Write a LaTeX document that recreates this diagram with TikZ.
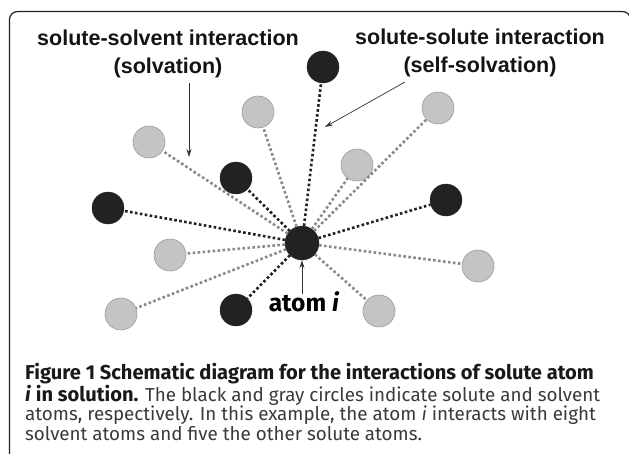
\documentclass[tikz,border=0pt]{standalone}
\usepackage{fontspec}
\setmainfont{Fira Sans}
\newfontfamily\labfont{Liberation Sans}
\usetikzlibrary{arrows.meta}
\definecolor{soluteC}{HTML}{222222}
\definecolor{solvC}{HTML}{C4C4C4}
\definecolor{solvedge}{HTML}{9A9A9A}
\definecolor{solvline}{HTML}{8A8A8A}
\definecolor{captxt}{HTML}{3A3A3A}
\newcommand\capbold[1]{{\fontsize{20.1}{19.5}\selectfont\bfseries\color{black!90}#1}}
\begin{document}
\begin{tikzpicture}[x=1pt,y=-1pt,
  solute/.style={circle, fill=soluteC, draw=soluteC, line width=0.4pt, minimum size=32pt, inner sep=0pt},
  solvent/.style={circle, fill=solvC, draw=solvedge, line width=0.6pt, minimum size=32pt, inner sep=0pt},
  uu/.style={line width=2.6pt, dash pattern=on 2.6pt off 2.4pt, draw=soluteC},
  uv/.style={line width=2.6pt, dash pattern=on 2.6pt off 2.4pt, draw=solvline},
  arr/.style={-{Stealth[length=8pt,width=5pt]}, line width=0.7pt, draw=black!80},
  lab/.style={font=\labfont\bfseries\fontsize{21.5}{22}\selectfont, text=black!92, inner sep=0pt},
  caption/.style={text=captxt, inner sep=0pt, anchor=base west}]
\useasboundingbox (0,0) rectangle (629,453);
% frame
\draw[line width=1.2pt, draw=soluteC, rounded corners=8pt] (9.5,470) -- (9.5,11.5) -- (630.5,11.5) -- (630.5,470);
% labels
\node[lab] (lab1) at (168,38) {solute-solvent interaction};
\node[lab] (lab2) at (168,68) {(solvation)};
\node[lab] (lab3) at (480,37) {solute-solute interaction};
\node[lab] (lab4) at (480,67) {(self-solvation)};
% atoms
\node[solute, minimum size=34pt] (c) at (302,243) {};
\node[solute] (u1) at (323,67) {};
\node[solute] (u2) at (236,178) {};
\node[solute] (u3) at (108,208) {};
\node[solute] (u4) at (446,200) {};
\node[solute] (u5) at (236,310) {};
\node[solvent] (v1) at (149,142) {};
\node[solvent] (v2) at (258,112) {};
\node[solvent] (v3) at (438,108) {};
\node[solvent] (v4) at (357,165) {};
\node[solvent] (v5) at (170,255) {};
\node[solvent] (v6) at (121,314) {};
\node[solvent] (v7) at (478,266) {};
\node[solvent] (v8) at (379,311) {};
% interactions
\foreach \v in {v1,v2,v3,v4,v5,v6,v7,v8} \draw[uv] (c) -- (\v);
\foreach \u in {u1,u2,u3,u4,u5} \draw[uu] (c) -- (\u);
% atom i label
\node[font=\bfseries\fontsize{24.5}{26}\selectfont, text=black, inner sep=0pt, anchor=base] (ai) at (304,311) {atom \textit{i}};
% arrows
\coordinate (a1s) at (189,83);
\coordinate (a1e) at (189,157);
\coordinate (a2s) at (405,82);
\coordinate (a2e) at (325,127);
\coordinate (a3s) at (302,294);
\draw[arr] (a1s) -- (a1e);
\draw[arr] (a2s) -- (a2e);
\draw[arr] (a3s) -- (c.south);
% caption
\node[caption] (cap) at (25,363) {\parbox[t]{640pt}{\raggedright\fontsize{18.8}{19.5}\selectfont
\capbold{Figure 1 Schematic diagram for the interactions of solute atom}\\
\capbold{\textit{i} in solution.} The black and gray circles indicate solute and solvent\\
atoms, respectively. In this example, the atom \textit{i} interacts with eight\\
solvent atoms and five the other solute atoms.}};
\end{tikzpicture}
\end{document}
